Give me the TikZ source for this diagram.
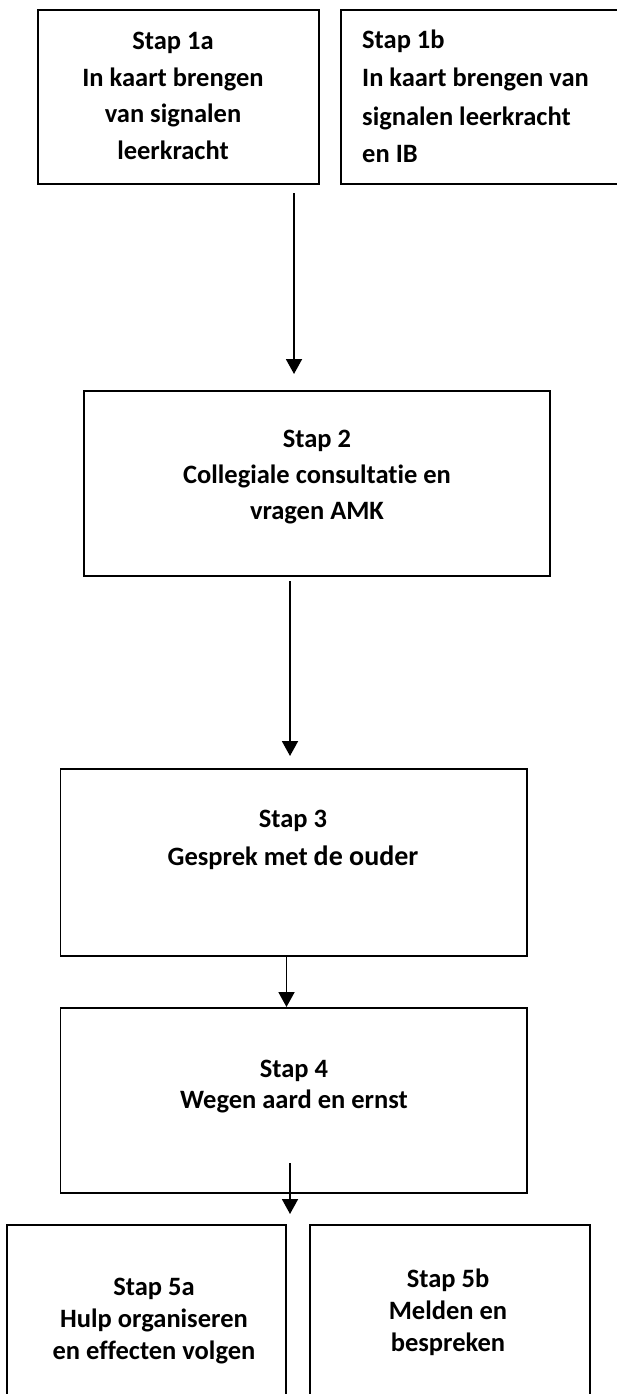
\documentclass[tikz,border=0pt]{standalone}
\usepackage{fontspec}
\setmainfont{Carlito}[Ligatures=NoCommon]
\usetikzlibrary{arrows.meta}
\tikzset{
  box/.style={draw=black, line width=1.9pt, rectangle, inner sep=0pt, outer sep=0pt, anchor=north west},
  txt/.style={inner sep=0pt, anchor=base, font=\fontsize{26.5pt}{32pt}\selectfont\bfseries},
  txtl/.style={txt, anchor=base west},
  arr/.style={line width=1.9pt, -{Triangle[width=16pt,length=15pt]}}
}
\begin{document}
\begin{tikzpicture}[x=1pt,y=-1pt]
\useasboundingbox (0,0) rectangle (617,1394);
\clip (0,0) rectangle (617,1394);
% boxes
\node[box, minimum width=281pt, minimum height=174pt] (b1a) at (38,10) {};
\node[box, minimum width=300pt, minimum height=174pt] (b1b) at (341,10) {};
\node[box, minimum width=466pt, minimum height=185pt] (b2) at (84,391) {};
\node[box, minimum width=466.5pt, minimum height=187pt] (b3) at (60.5,769) {};
\node[box, minimum width=466.5pt, minimum height=185pt] (b4) at (60.5,1008) {};
\node[box, minimum width=279pt, minimum height=200pt] (b5a) at (7,1225) {};
\node[box, minimum width=280pt, minimum height=200pt] (b5b) at (310,1225) {};
% texts
\node[txt] (t1a1) at (173,50) {Stap 1a};
\node[txt] (t1a2) at (173,86.5) {In kaart brengen};
\node[txt] (t1a3) at (173,123) {van signalen};
\node[txt] (t1a4) at (173,159.5) {leerkracht};
\node[txtl] (t1b1) at (362,49) {Stap 1b};
\node[txtl] (t1b2) at (362,87) {In kaart brengen van};
\node[txtl] (t1b3) at (362,125) {signalen leerkracht};
\node[txtl] (t1b4) at (362,162) {en IB};
\node[txt] (t21) at (317,447) {Stap 2};
\node[txt] (t22) at (317,483) {Collegiale consultatie en};
\node[txt] (t23) at (317,519) {vragen AMK};
\node[txt] (t31) at (293,827) {Stap 3};
\node[txt] (t32) at (293,865) {Gesprek met {\fontsize{28pt}{32pt}\selectfont de ouder}};
\node[txt] (t41) at (294,1077) {Stap 4};
\node[txt] (t42) at (294,1108) {Wegen aard en ernst};
\node[txt] (t5a1) at (154,1295) {Stap 5a};
\node[txt] (t5a2) at (154,1327) {Hulp organiseren};
\node[txt] (t5a3) at (154,1359) {en effecten volgen};
\node[txt] (t5b1) at (448,1287) {Stap 5b};
\node[txt] (t5b2) at (448,1319) {Melden en};
\node[txt] (t5b3) at (448,1351) {bespreken};
% arrows
\coordinate (x1) at (294,0);
\coordinate (x2) at (290,0);
\coordinate (x3) at (286.5,0);
\coordinate (a4s) at (290,1163);
\coordinate (a4e) at (290,1214);
\draw[arr, shorten <=9pt, shorten >=17pt] (b1a.south -| x1) -- (b2.north -| x1);
\draw[arr, shorten <=5pt, shorten >=13pt] (b2.south -| x2) -- (b3.north -| x2);
\draw[arr, shorten >=1pt] (b3.south -| x3) -- (b4.north -| x3);
\draw[arr] (a4s) -- (a4e);
\end{tikzpicture}
\end{document}
